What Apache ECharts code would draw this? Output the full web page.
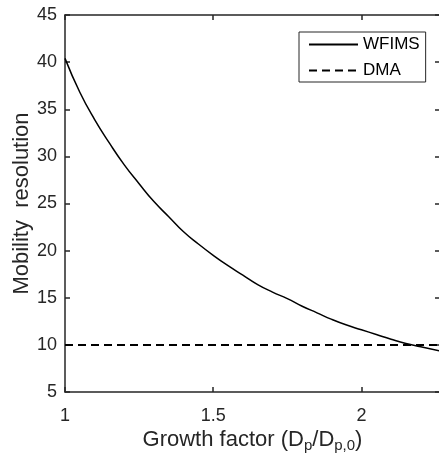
<!DOCTYPE html>
<html>
<head>
<meta charset="utf-8">
<script src="https://cdn.jsdelivr.net/npm/echarts@6/dist/echarts.min.js"></script>
<style>
  html, body { margin: 0; padding: 0; background: #ffffff; }
  #chart { width: 439px; height: 462px; }
</style>
</head>
<body>
<div id="chart"></div>
<script>
// Growth factor samples and the WFIMS mobility resolution at each
const growthFactor = [1.00, 1.05, 1.10, 1.15, 1.20, 1.25, 1.30, 1.35, 1.40, 1.45,
                      1.50, 1.55, 1.60, 1.65, 1.70, 1.75, 1.80, 1.85, 1.90, 1.95,
                      2.00, 2.05, 2.10, 2.15, 2.20, 2.265];
const wfimsResolution = [40.4, 36.8, 33.9, 31.4, 29.1, 27.1, 25.2, 23.6, 22.0, 20.7,
                         19.5, 18.4, 17.4, 16.4, 15.6, 14.9, 14.1, 13.4, 12.7, 12.1,
                         11.6, 11.1, 10.6, 10.15, 9.8, 9.35];
// DMA resolution is constant over the range
const dmaGrowth = [1.00, 2.265];
const dmaResolution = [10, 10];

const xTicks = [1, 1.5, 2];
const xRange = [1, 2.265];
const yRange = [5, 45];

const ink = '#262626';
const font = 'Liberation Sans, Arial, sans-serif';

const zip = (xs, ys) => xs.map((x, i) => [x, ys[i]]);

const chart = echarts.init(document.getElementById('chart'), null, { renderer: 'canvas' });

const frameAxis = {
  axisLine: { show: true, onZero: false, lineStyle: { color: ink, width: 1.5 } },
  axisTick: { show: true, inside: true, length: 5, lineStyle: { color: ink, width: 1.5 } },
  splitLine: { show: false }
};

chart.setOption({
  backgroundColor: '#ffffff',
  animation: false,
  grid: { left: 65, right: -1, top: 15, bottom: 70, containLabel: false, outerBoundsMode: 'none' },
  legend: {
    orient: 'vertical',
    left: 299, top: 32,
    padding: [4, 6, 3, 9],
    itemWidth: 49, itemHeight: 17, itemGap: 9,
    backgroundColor: '#ffffff',
    borderColor: ink, borderWidth: 1,
    itemStyle: { opacity: 0 },
    textStyle: { color: '#000', fontFamily: font, fontSize: 17 },
    data: ['WFIMS', 'DMA']
  },
  xAxis: [
    Object.assign({
      type: 'value', position: 'bottom',
      min: xRange[0], max: xRange[1], interval: 0.5,
      axisLabel: {
        color: ink, fontFamily: font, fontSize: 18, margin: 15,
        showMaxLabel: false,
        formatter: v => (xTicks.indexOf(v) >= 0 ? String(v) : '')
      },
      name: 'Growth factor (D{sub|p}/D{sub|p,0})',
      nameLocation: 'middle', nameGap: 34, nameMoveOverlap: false,
      nameTextStyle: {
        color: ink, fontFamily: font, fontSize: 22,
        rich: { sub: { fontSize: 15, fontFamily: font, color: ink, padding: [12, 0, 0, 0] } }
      }
    }, frameAxis),
    Object.assign({
      type: 'value', position: 'top',
      min: xRange[0], max: xRange[1], interval: 0.5,
      axisLabel: { show: false }
    }, frameAxis)
  ],
  yAxis: [
    Object.assign({
      type: 'value', position: 'left',
      min: yRange[0], max: yRange[1], interval: 5,
      axisLabel: { color: ink, fontFamily: font, fontSize: 18, margin: 8 },
      name: 'Mobility  resolution',
      nameLocation: 'middle', nameGap: 32, nameMoveOverlap: false,
      nameTextStyle: { color: ink, fontFamily: font, fontSize: 22 }
    }, frameAxis),
    Object.assign({
      type: 'value', position: 'right',
      min: yRange[0], max: yRange[1], interval: 5,
      axisLabel: { show: false }
    }, frameAxis)
  ],
  series: [
    {
      name: 'WFIMS', type: 'line', xAxisIndex: 0, yAxisIndex: 0,
      data: zip(growthFactor, wfimsResolution),
      smooth: 0.5, symbol: 'none', showSymbol: false,
      lineStyle: { color: '#000', width: 1.5, type: 'solid' },
      itemStyle: { color: '#000' }
    },
    {
      name: 'DMA', type: 'line', xAxisIndex: 0, yAxisIndex: 0,
      data: zip(dmaGrowth, dmaResolution),
      symbol: 'none', showSymbol: false,
      lineStyle: { color: '#000', width: 2, type: [8, 5] },
      itemStyle: { color: '#000' }
    }
  ]
});
</script>
</body>
</html>
